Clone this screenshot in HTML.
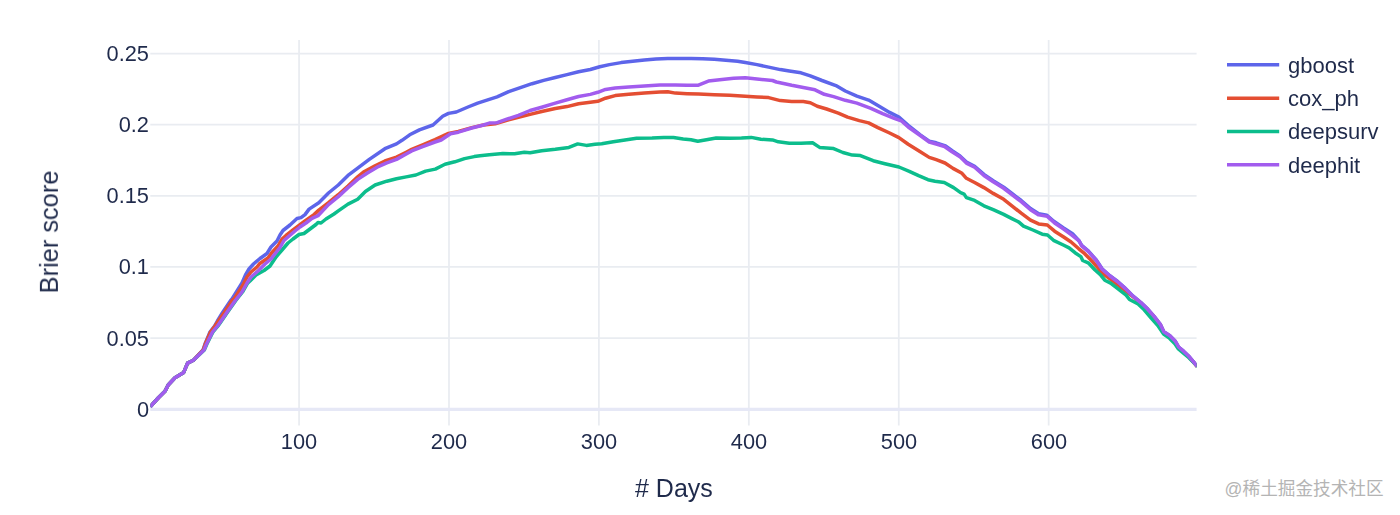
<!DOCTYPE html>
<html lang="en"><head><meta charset="utf-8"><title>Brier score</title>
<style>
html,body{margin:0;padding:0;background:#ffffff;}
body{width:1400px;height:515px;position:relative;overflow:hidden;font-family:"Liberation Sans",sans-serif;color:#1f2a4b;}
svg.plot{position:absolute;left:0;top:0;display:block;}
.t{position:absolute;white-space:nowrap;line-height:1;will-change:transform;}
.yt{font-size:21.8px;width:60px;text-align:right;left:88.6px;}
.xt{font-size:21.8px;width:80px;text-align:center;top:431.2px;}
.lg{font-size:22px;left:1287.6px;}
.ttl{font-size:25.4px;}
.wm{color:transparent;font-size:18px;left:1224px;top:479px;}
</style></head><body>
<svg class="plot" width="1400" height="515" viewBox="0 0 1400 515">
<defs><clipPath id="pa"><rect x="150.3" y="40.0" width="1046.3" height="385.6"/></clipPath></defs>
<g stroke="#e9ecf1" stroke-width="1.75" fill="none">
<path d="M299.07 40.0V425.6"/>
<path d="M448.99 40.0V425.6"/>
<path d="M598.91 40.0V425.6"/>
<path d="M748.83 40.0V425.6"/>
<path d="M898.75 40.0V425.6"/>
<path d="M1048.67 40.0V425.6"/>
<path d="M150.3 338.14H1196.6"/>
<path d="M150.3 266.98H1196.6"/>
<path d="M150.3 195.82H1196.6"/>
<path d="M150.3 124.66H1196.6"/>
<path d="M150.3 53.50H1196.6"/>
</g>
<path d="M150.3 409.30H1196.6" stroke="#e6e8f6" stroke-width="3.3" fill="none"/>
<g clip-path="url(#pa)" fill="none" stroke-width="3.5" stroke-linejoin="round" stroke-linecap="butt">
<path d="M150.2 406.7L158.4 397.7L165.2 390.9L168.2 385.0L175.0 377.7L183.7 372.4L187.6 363.1L193.4 360.2L203.0 350.0L205.0 344.0L208.8 335.0L210.0 332.0L214.6 326.0L217.4 321.0L222.6 312.5L231.0 300.0L232.0 299.0L242.0 283.0L245.5 275.0L249.0 269.0L253.5 264.0L260.0 258.5L267.0 253.5L271.0 247.0L277.0 241.0L280.0 235.0L283.0 230.5L290.0 225.0L297.0 218.5L301.0 217.6L305.0 214.6L309.1 209.1L318.8 202.7L328.5 193.0L338.3 185.0L348.0 175.4L357.7 168.2L369.3 159.4L384.9 148.7L396.5 143.9L402.0 140.3L409.7 134.8L419.4 129.9L433.0 125.0L442.7 116.3L448.5 113.4L456.3 112.0L468.0 107.0L477.7 103.1L489.3 99.4L497.1 96.9L508.7 91.7L520.4 87.6L532.0 83.7L543.7 80.4L555.3 77.5L567.0 74.6L578.6 71.7L590.3 69.5L599.8 66.8L609.4 64.6L621.1 62.6L632.7 61.3L644.4 60.1L656.0 59.1L667.7 58.5L679.3 58.5L691.0 58.5L702.6 58.7L714.3 59.3L725.9 60.3L737.6 61.3L745.3 62.6L757.0 64.6L768.6 67.1L780.3 69.6L789.3 71.0L801.0 72.8L810.3 75.9L822.0 80.5L835.9 85.6L845.3 91.0L856.9 96.1L868.6 100.1L877.9 105.5L889.6 112.4L898.9 117.1L908.2 125.3L919.9 134.6L929.2 141.1L936.2 142.8L945.5 145.8L952.5 150.9L960.0 156.0L966.4 162.0L974.6 166.2L983.9 174.4L993.2 180.7L1003.7 187.2L1011.9 193.5L1021.2 200.5L1030.5 208.6L1038.7 213.8L1046.9 215.2L1053.8 221.2L1063.2 227.6L1072.5 233.6L1078.8 240.5L1081.7 245.4L1088.5 251.2L1096.3 260.0L1102.1 268.8L1109.9 275.7L1117.7 281.5L1125.4 288.4L1133.2 296.2L1141.0 302.6L1147.5 308.8L1154.1 316.4L1160.3 324.3L1163.8 331.8L1169.9 335.7L1175.1 340.9L1178.6 347.0L1183.8 351.4L1189.1 356.6L1197.2 366.3" stroke="#5d65ea"/>
<path d="M150.2 406.7L158.4 397.7L165.2 390.9L168.2 385.0L175.0 377.7L183.7 372.4L187.6 363.1L193.4 360.2L203.2 350.0L205.3 344.0L209.2 335.0L210.5 332.0L215.0 326.0L218.3 321.0L224.2 312.5L232.5 300.0L234.0 299.0L243.0 285.0L247.0 277.0L251.0 272.0L257.0 267.0L259.5 263.8L268.0 258.0L272.0 252.5L278.0 246.0L282.0 239.0L286.0 235.5L293.0 230.0L299.0 225.5L305.0 221.0L314.0 214.6L318.8 210.1L328.5 202.7L338.3 194.7L348.0 186.0L357.7 176.9L363.5 172.0L375.1 165.8L384.9 161.0L396.5 157.1L406.2 152.2L411.7 149.3L423.3 144.5L435.0 139.6L448.5 133.4L458.3 131.5L471.8 127.6L483.5 125.0L495.1 123.7L506.8 120.2L518.4 117.3L530.1 114.4L541.7 111.5L555.3 108.5L567.0 106.6L578.6 103.7L590.3 102.3L597.8 101.3L605.5 98.2L615.2 95.6L628.8 94.3L644.4 93.1L659.9 92.1L667.7 91.7L675.4 93.1L687.1 93.7L698.7 94.1L714.3 94.7L729.8 95.2L745.3 96.2L757.0 97.0L768.6 97.6L780.3 100.6L791.7 101.5L803.3 101.5L810.3 102.7L817.3 106.2L826.6 109.0L838.3 113.1L847.6 117.1L859.3 120.6L868.6 122.9L877.9 127.6L889.6 133.0L898.9 137.6L908.2 144.2L919.9 151.4L929.2 157.4L936.2 159.7L945.0 163.0L953.0 168.4L962.0 173.3L966.4 178.3L974.6 182.5L983.9 187.6L993.2 193.4L1003.7 199.3L1011.9 205.8L1021.2 213.2L1030.5 220.2L1038.7 223.9L1047.3 225.0L1054.6 231.2L1063.3 236.7L1071.1 242.0L1078.8 248.8L1084.7 253.7L1092.4 261.5L1098.3 268.3L1102.1 273.1L1109.9 278.9L1117.7 284.8L1125.4 290.6L1133.2 297.0L1141.0 303.2L1147.5 309.3L1154.1 317.0L1160.3 325.0L1163.8 332.4L1169.9 336.5L1175.1 341.8L1178.6 347.8L1183.8 352.2L1189.1 357.2L1197.2 366.6" stroke="#e44e32"/>
<path d="M150.2 406.7L158.4 397.7L165.2 390.9L168.2 385.0L175.0 377.7L183.7 372.4L187.6 363.1L193.4 360.2L204.3 350.0L206.9 344.0L211.4 335.0L213.0 332.0L218.0 326.0L221.5 321.0L227.3 312.5L235.8 300.5L242.5 292.0L247.6 283.2L250.0 281.0L256.0 275.0L264.0 270.5L270.0 266.0L276.0 257.0L282.0 250.0L288.0 243.0L293.0 239.0L299.0 234.5L304.0 233.5L310.0 229.0L316.0 224.5L318.0 222.5L321.0 223.0L326.0 219.0L334.0 214.0L338.3 210.9L348.0 204.1L357.7 199.2L365.4 191.5L375.1 185.0L386.8 181.2L396.5 178.8L406.2 176.9L415.9 175.0L425.6 171.1L435.3 169.1L445.0 164.3L454.8 161.8L464.5 158.6L474.2 156.6L480.0 155.8L489.3 154.8L502.9 153.6L514.6 153.8L524.3 152.2L530.1 152.8L541.7 150.7L555.3 149.3L568.9 147.4L577.7 143.9L586.4 145.4L595.0 144.3L601.7 143.8L613.3 141.8L625.0 139.9L636.6 138.3L652.1 138.0L663.8 137.4L673.5 137.4L683.2 138.9L691.0 139.7L697.8 141.3L706.5 139.7L716.2 138.0L729.8 138.3L741.5 138.0L751.2 137.4L760.9 139.3L772.5 139.9L778.3 141.8L789.3 143.2L801.0 143.2L812.6 142.8L819.6 147.4L833.6 148.6L842.9 152.5L852.3 155.1L860.4 155.6L873.2 160.7L884.9 163.7L898.9 167.0L909.3 171.3L918.6 175.7L928.0 179.7L935.0 181.3L944.3 182.5L953.6 187.6L960.6 192.7L964.1 194.1L966.4 197.6L974.6 200.4L983.9 205.8L993.2 209.7L1003.7 214.4L1011.9 218.6L1018.9 222.1L1023.5 226.1L1032.9 230.0L1042.2 234.2L1047.5 235.0L1053.5 240.3L1063.3 245.0L1069.1 247.9L1075.0 252.7L1080.8 256.6L1082.7 260.5L1088.7 263.2L1094.8 269.8L1100.9 275.3L1104.8 280.2L1110.6 283.1L1118.4 289.2L1126.1 295.1L1129.5 299.5L1138.1 304.0L1144.2 309.8L1151.4 318.4L1158.3 326.2L1163.6 334.1L1169.7 338.4L1174.9 343.7L1178.4 348.9L1183.7 353.3L1188.9 357.7L1197.9 366.9" stroke="#0cbd8c"/>
<path d="M150.2 406.7L158.4 397.7L165.2 390.9L168.2 385.0L175.0 377.7L183.7 372.4L187.6 363.1L193.4 360.2L204.0 350.0L206.5 344.0L211.0 335.0L212.5 332.0L217.5 326.0L221.0 321.0L226.8 312.5L235.3 300.5L242.0 292.0L247.0 283.0L251.0 277.0L258.0 271.0L265.0 264.0L271.0 259.0L274.0 255.0L280.0 247.5L284.0 240.5L288.0 237.0L295.0 231.0L300.0 227.0L306.0 223.0L312.0 218.4L318.0 215.7L328.5 204.6L338.3 196.6L348.0 187.6L357.7 179.4L367.4 173.0L377.1 167.2L386.8 162.9L396.5 159.4L406.2 154.0L411.7 150.9L423.3 146.4L435.0 142.0L441.2 140.0L450.5 133.8L458.3 132.2L471.8 128.0L483.5 125.0L489.3 123.1L497.1 122.7L506.8 119.2L518.4 115.3L530.1 110.5L541.7 107.2L555.3 103.1L567.0 99.8L578.6 96.5L590.3 94.4L597.8 92.3L605.5 89.4L615.2 87.9L628.8 86.9L644.4 85.9L659.9 85.0L675.4 85.0L687.1 85.3L697.8 85.3L708.4 81.1L722.0 79.5L733.7 78.2L745.3 77.8L757.0 79.1L772.5 80.5L776.4 82.0L780.0 82.8L791.7 85.3L803.3 87.5L815.0 89.8L824.3 94.3L833.6 96.6L845.3 100.3L856.9 103.1L870.9 108.3L882.6 113.6L894.2 118.3L901.2 120.8L908.2 127.0L919.9 135.3L929.2 142.0L936.2 144.0L944.5 146.5L952.0 151.8L960.3 157.0L966.4 163.1L974.6 167.3L983.9 175.5L993.2 181.8L1003.7 188.3L1011.9 194.6L1021.2 201.6L1030.5 209.7L1038.7 214.9L1047.3 216.4L1054.6 223.0L1063.3 228.9L1071.5 234.9L1079.0 240.8L1081.7 245.9L1088.5 251.7L1096.3 260.5L1102.1 269.2L1109.9 276.0L1117.7 281.8L1125.4 288.6L1133.2 296.4L1141.0 302.8L1147.5 309.0L1154.1 316.4L1160.3 324.3L1163.8 331.8L1169.9 335.7L1175.1 340.9L1178.6 347.0L1183.8 351.4L1189.1 356.6L1197.2 366.3" stroke="#a25cee"/>
</g>
<g fill="none" stroke-width="3.5">
<path d="M1227 64.7H1279.2" stroke="#5d65ea"/>
<path d="M1227 98.2H1279.2" stroke="#e44e32"/>
<path d="M1227 131.5H1279.2" stroke="#0cbd8c"/>
<path d="M1227 164.8H1279.2" stroke="#a25cee"/>
</g>
<text x="1224.6" y="494.6" font-size="17.89" fill="#b4b4b4" font-family="&quot;Liberation Sans&quot;, &quot;Noto Sans CJK SC&quot;, sans-serif" textLength="159" lengthAdjust="spacingAndGlyphs">@稀土掘金技术社区</text>
</svg>
<div class="t yt" style="top:398.70px">0</div>
<div class="t yt" style="top:327.54px">0.05</div>
<div class="t yt" style="top:256.38px">0.1</div>
<div class="t yt" style="top:185.22px">0.15</div>
<div class="t yt" style="top:114.06px">0.2</div>
<div class="t yt" style="top:42.90px">0.25</div>
<div class="t xt" style="left:259.1px">100</div>
<div class="t xt" style="left:409.0px">200</div>
<div class="t xt" style="left:558.9px">300</div>
<div class="t xt" style="left:708.8px">400</div>
<div class="t xt" style="left:858.8px">500</div>
<div class="t xt" style="left:1008.7px">600</div>
<div class="t lg" style="top:54.50px">gboost</div>
<div class="t lg" style="top:88.00px">cox_ph</div>
<div class="t lg" style="top:121.30px">deepsurv</div>
<div class="t lg" style="top:154.60px">deephit</div>
<div class="t ttl" style="left:635.3px;top:476px;font-size:25px"># Days</div>
<div class="t ttl" style="left:0;top:0;transform-origin:0 0;transform:translate(36.9px,293.4px) rotate(-90deg)">Brier score</div>
<div class="t wm">@稀土掘金技术社区</div>
</body></html>
